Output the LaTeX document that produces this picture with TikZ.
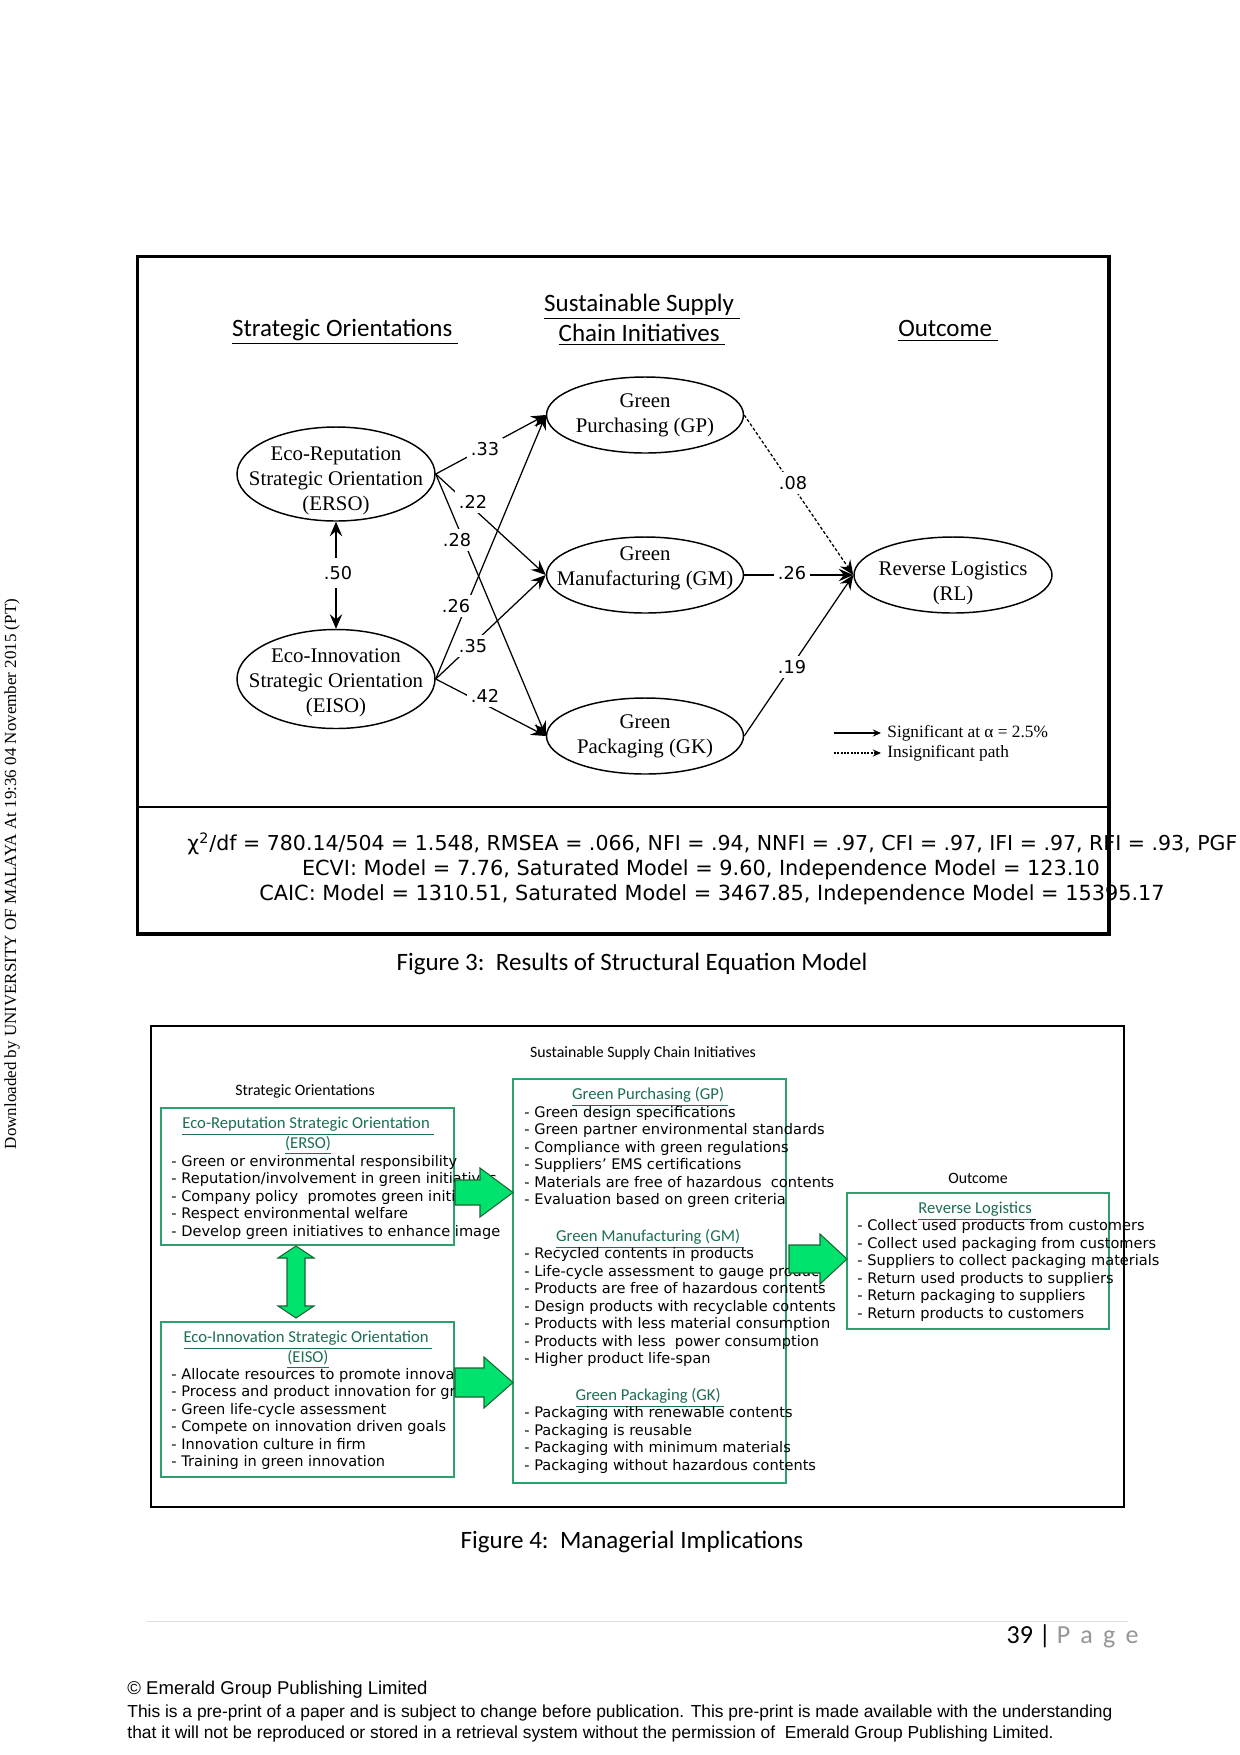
\documentclass[tikz,border=0pt]{standalone}
\usepackage{fontspec}
\setmainfont{Liberation Serif}
\newfontfamily\calfont{Carlito}
\newfontfamily\dvfont{DejaVu Sans}
\newfontfamily\arfont{Liberation Sans}
\newfontfamily\tmfont{Liberation Serif}
\usetikzlibrary{arrows.meta,shapes.geometric}
\definecolor{boxgreen}{RGB}{45,160,110}
\definecolor{titlegreen}{RGB}{30,110,85}
\definecolor{arrowfill}{RGB}{0,226,110}
\definecolor{arrowline}{RGB}{25,100,50}
\definecolor{pagegray}{RGB}{150,150,150}
\begin{document}
\begin{tikzpicture}[x=0.48pt,y=-0.48pt,
  ell/.style={draw, ellipse, line width=0.7pt, inner sep=0pt},
  elltxt/.style={align=center, font=\tmfont\fontsize{10}{12}\selectfont},
  semarr/.style={line width=0.6pt, -{Stealth[length=7pt,width=6pt,inset=2.5pt]}},
  legarr/.style={line width=0.5pt, -{Stealth[length=4pt,width=3.5pt,inset=1.5pt]}},
  lab/.style={fill=white, inner sep=2pt, font=\dvfont\fontsize{8.5}{10}\selectfont},
  head/.style={font=\calfont\fontsize{12}{14.5}\selectfont, align=center, inner sep=0pt},
  gbox/.style={draw=boxgreen, line width=0.6pt, inner sep=0pt},
  gtitle/.style={align=center, text=titlegreen, inner sep=0pt, font=\calfont\fontsize{8}{9.6}\selectfont},
  bul/.style={align=left, anchor=west, inner sep=0pt, font=\dvfont\fontsize{7}{8.4}\selectfont},
  smallhead/.style={inner sep=0pt, font=\calfont\fontsize{7.6}{9}\selectfont},
  garrow/.style={fill=arrowfill, draw=arrowline, line width=0.5pt, line join=miter},
  foot/.style={anchor=west, inner sep=0pt, font=\arfont\fontsize{8.35}{10}\selectfont},
  stat/.style={inner sep=0pt, font=\dvfont\fontsize{10}{12}\selectfont}
]
\fill[white] (0,0) rectangle (1240,1755);
\useasboundingbox (0,0) rectangle (1240,1755);

% side text
\node[rotate=90, inner sep=0pt, font=\tmfont\fontsize{8.15}{10}\selectfont] (side) at (12,874)
  {Downloaded by UNIVERSITY OF MALAYA At 19:36 04 November 2015 (PT)};

% ===== Figure 3 =====
\draw[line width=1.5pt] (137.5,256.5) rectangle (1109,934);
\draw[line width=0.7pt] (137.5,807) -- (1109,807);

\node[head] (hso) at (345,332) {\underline{Strategic Orientations\ }};
\node[head] (hssci) at (642,320) {\underline{Sustainable Supply\ }\\\underline{Chain Initiatives\ }};
\node[head] (hout) at (948,331) {\underline{Outcome\ }};

\node[ell, minimum width=198*0.48pt, minimum height=94*0.48pt,
  label={[elltxt, yshift=-3.4pt]center:{Eco-Reputation\\Strategic Orientation\\(ERSO)}}] (ERSO) at (336,474) {};
\node[ell, minimum width=198*0.48pt, minimum height=99*0.48pt,
  label={[elltxt, yshift=-1.6pt]center:{Eco-Innovation\\Strategic Orientation\\(EISO)}}] (EISO) at (336,679) {};
\node[ell, minimum width=197*0.48pt, minimum height=76*0.48pt,
  label={[elltxt]center:{Green\\Purchasing (GP)}}] (GP) at (645,415) {};
\node[ell, minimum width=197*0.48pt, minimum height=76*0.48pt,
  label={[elltxt, yshift=3pt]center:{Green\\Manufacturing (GM)}}] (GM) at (645,575) {};
\node[ell, minimum width=197*0.48pt, minimum height=76*0.48pt,
  label={[elltxt]center:{Green\\Packaging (GK)}}] (GK) at (645,736) {};
\node[ell, minimum width=198*0.48pt, minimum height=76*0.48pt,
  label={[elltxt, yshift=-3.8pt]center:{Reverse Logistics\\(RL)}}] (RL) at (953,575) {};

\draw[line width=0.6pt, {Stealth[length=7pt,width=6pt,inset=2.5pt]}-{Stealth[length=7pt,width=6pt,inset=2.5pt]}] (ERSO.south) -- (EISO.north);
\draw[semarr] (ERSO.east) -- (GP.west);
\draw[semarr] (ERSO.east) -- (GM.west);
\draw[semarr] (ERSO.east) -- (GK.west);
\draw[semarr] (EISO.east) -- (GP.west);
\draw[semarr] (EISO.east) -- (GM.west);
\draw[semarr] (EISO.east) -- (GK.west);
\draw[semarr, dash pattern=on 1.5pt off 1pt] (GP.east) -- (RL.west);
\draw[semarr] (GM.east) -- (RL.west);
\draw[semarr] (GK.east) -- (RL.west);

\node[lab, inner ysep=4pt] (l50) at (338,573) {.50};
\node[lab] (l33) at (485,449) {.33};
\node[lab] (l22) at (473,502) {.22};
\node[lab] (l28) at (457,540) {.28};
\node[lab] (l26a) at (456,606) {.26};
\node[lab] (l35) at (473,646) {.35};
\node[lab] (l42) at (485,696) {.42};
\node[lab] (l08) at (793,483) {.08};
\node[lab] (l26b) at (792,573) {.26};
\node[lab] (l19) at (792,667) {.19};

% legend
\coordinate (la1) at (834,733); \coordinate (lb1) at (881,733);
\coordinate (la2) at (834,753); \coordinate (lb2) at (881,753);
\draw[legarr] (la1) -- (lb1);
\draw[legarr, dash pattern=on 1pt off 0.6pt] (la2) -- (lb2);
\node[anchor=west, inner sep=0pt, font=\tmfont\fontsize{8.3}{10}\selectfont] (leg1) at (887,733) {Significant at α = 2.5\%};
\node[anchor=west, inner sep=0pt, font=\tmfont\fontsize{8.3}{10}\selectfont] (leg2) at (887,753) {Insignificant path};

% fit statistics
\node[stat, anchor=west, font=\dvfont\fontsize{9.85}{12}\selectfont] (st1) at (187,844)
  {χ\textsuperscript{2}/df = 780.14/504 = 1.548, RMSEA = .066, NFI = .94, NNFI = .97, CFI = .97, IFI = .97, RFI = .93, PGF};
\node[stat] (st2) at (701,870)
  {ECVI: Model = 7.76, Saturated Model = 9.60, Independence Model = 123.10};
\node[stat] (st3) at (712,895)
  {CAIC: Model = 1310.51, Saturated Model = 3467.85, Independence Model = 15395.17};

\node[inner sep=0pt, font=\calfont\fontsize{12}{14}\selectfont] (cap3) at (632,964)
  {Figure 3:\ \ Results of Structural Equation Model};

% ===== Figure 4 =====
\draw[line width=0.7pt] (151,1026) rectangle (1124,1507);
\node[smallhead] (h4ssci) at (643,1053) {Sustainable Supply Chain Initiatives};
\node[smallhead] (h4so) at (305,1091) {Strategic Orientations};
\node[smallhead] (h4out) at (978,1178) {Outcome};

\node[gbox, minimum width=293*0.48pt, minimum height=137*0.48pt] (bERSO) at (307.5,1176.5) {};
\node[gbox, minimum width=293*0.48pt, minimum height=155*0.48pt] (bEISO) at (307.5,1399.5) {};
\node[gbox, minimum width=273*0.48pt, minimum height=404*0.48pt] (bSSCI) at (649.5,1281) {};
\node[gbox, minimum width=262*0.48pt, minimum height=136*0.48pt] (bRL) at (978,1261) {};

\node[gtitle] (tERSO) at (308,1136) {\underline{Eco-Reputation Strategic Orientation\ }\\\underline{(ERSO)}};
\node[bul] (uERSO) at (171,1197) {- Green or environmental responsibility\\- Reputation/involvement in green initiatives\\- Company policy\ \ promotes green initiatives\\- Respect environmental welfare\\- Develop green initiatives to enhance image};

\node[gtitle] (tEISO) at (308,1350) {\underline{Eco-Innovation Strategic Orientation\ }\\\underline{(EISO)}};
\node[bul] (uEISO) at (171,1419) {- Allocate resources to promote innovation\\- Process and product innovation for green\\- Green life-cycle assessment\\- Compete on innovation driven goals\\- Innovation culture in firm\\- Training in green innovation};

\node[gtitle] (tGP) at (650,1097) {\underline{Green Purchasing (GP)\ }};
\node[bul] (uGP) at (524,1157) {- Green design specifications\\- Green partner environmental standards\\- Compliance with green regulations\\- Suppliers’ EMS certifications\\- Materials are free of hazardous\ \ contents\\- Evaluation based on green criteria};

\node[gtitle] (tGM) at (650,1239) {\underline{Green Manufacturing (GM)\ }};
\node[bul] (uGM) at (524,1307) {- Recycled contents in products\\- Life-cycle assessment to gauge product\\- Products are free of hazardous contents\\- Design products with recyclable contents\\- Products with less material consumption\\- Products with less\ \ power consumption\\- Higher product life-span};

\node[gtitle] (tGK) at (650,1398) {\underline{Green Packaging (GK)\ }};
\node[bul] (uGK) at (524,1440) {- Packaging with renewable contents\\- Packaging is reusable\\- Packaging with minimum materials\\- Packaging without hazardous contents};

\node[gtitle] (tRL) at (977,1211) {\underline{Reverse Logistics\ }};
\node[bul] (uRL) at (857,1270.5) {- Collect used products from customers\\- Collect used packaging from customers\\- Suppliers to collect packaging materials\\- Return used products to suppliers\\- Return packaging to suppliers\\- Return products to customers};

% block arrows
\draw[garrow] (455,1180) -- (480,1180) -- (480,1168) -- (513,1192.5) -- (480,1217) -- (480,1205) -- (455,1205) -- cycle;
\draw[garrow] (455,1368) -- (484,1368) -- (484,1357) -- (513,1382.5) -- (484,1408) -- (484,1397) -- (455,1397) -- cycle;
\draw[garrow] (789,1245) -- (820,1245) -- (820,1234) -- (847,1259) -- (820,1284) -- (820,1273) -- (789,1273) -- cycle;
\draw[garrow] (296,1246) -- (314,1258) -- (305,1258) -- (305,1306) -- (314,1306) -- (296,1318) -- (278,1306) -- (287,1306) -- (287,1258) -- (278,1258) -- cycle;

\node[inner sep=0pt, font=\calfont\fontsize{12}{14}\selectfont] (cap4) at (632,1542)
  {Figure 4:\ \ Managerial Implications};

% ===== page footer =====
\draw[gray!25, line width=0.5pt] (147,1621) -- (1128,1621);
\node[anchor=east, inner sep=0pt, font=\calfont\fontsize{12.5}{14}\selectfont] (pg) at (1139,1636)
  {39 | \textcolor{pagegray}{P\ \,a\ \,g\ \,e}};
\node[foot, font=\arfont\fontsize{8.9}{10}\selectfont] (c1) at (127,1690) {© Emerald Group Publishing Limited};
\node[foot] (c2) at (127,1713) {This is a pre-print of a paper and is subject to change before publication. This pre-print is made available with the understanding};
\node[foot] (c3) at (127,1734) {that it will not be reproduced or stored in a retrieval system without the permission of\ \ Emerald Group Publishing Limited.};
\end{tikzpicture}
\end{document}
